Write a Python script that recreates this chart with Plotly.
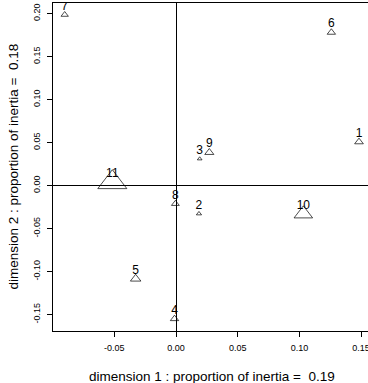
import plotly.graph_objects as go

# ---- data ----
labels = ["1", "2", "3", "4", "5", "6", "7", "8", "9", "10", "11"]
dim1 = [0.1483, 0.0186, 0.0192, -0.0012, -0.0327, 0.1259, -0.0902, -0.0005, 0.0270, 0.1032, -0.0516]
dim2 = [0.0507, -0.0328, 0.0310, -0.1550, -0.1085, 0.1780, 0.1986, -0.0212, 0.0384, -0.0330, 0.0037]
mass = [0.083, 0.050, 0.045, 0.080, 0.100, 0.080, 0.070, 0.075, 0.087, 0.177, 0.277]
x_ticks = [-0.05, 0.00, 0.05, 0.10, 0.15]
y_ticks = [-0.15, -0.10, -0.05, 0.00, 0.05, 0.10, 0.15, 0.20]
inertia1 = 0.19
inertia2 = 0.18

# ---- layout geometry ----
W, H = 368, 383
ML, MR, MT, MB = 53, 0, 3, 52
plot_h = H - MT - MB
x_range = [-0.09968, 0.15559]
y_range = [-0.16919, 0.21221]
label_shift = 8 * (y_range[1] - y_range[0]) / plot_h
FONT = "Liberation Sans, Arial, sans-serif"

sizes = [m * 100 / 1.1 for m in mass]

fig = go.Figure()
fig.add_trace(go.Scatter(
    x=dim1, y=dim2, mode="markers",
    marker=dict(symbol="triangle-up-open", size=sizes, color="black",
                line=dict(color="black", width=1)),
    cliponaxis=True, hoverinfo="skip", showlegend=False))
fig.add_trace(go.Scatter(
    x=dim1, y=[v + label_shift for v in dim2], mode="text", text=labels,
    textposition="middle center",
    textfont=dict(family=FONT, size=12, color="black"),
    cliponaxis=True, hoverinfo="skip", showlegend=False))

axis_common = dict(showgrid=False, ticks="outside", ticklen=5, tickwidth=1,
                   tickcolor="black", showline=True, linecolor="black", linewidth=1,
                   zeroline=True, zerolinecolor="black", zerolinewidth=1,
                   automargin=False, ticklabeloverflow="allow",
                   tickfont=dict(family=FONT, size=9, color="black"))

fig.update_layout(
    template="none",
    width=W, height=H,
    margin=dict(l=ML, r=MR, t=MT, b=MB, pad=0, autoexpand=False),
    paper_bgcolor="white", plot_bgcolor="white",
    xaxis=dict(range=x_range, tickvals=x_ticks,
               ticktext=[f"{v:.2f}" for v in x_ticks], mirror=True,
               ticklabelstandoff=3, **axis_common),
    yaxis=dict(range=y_range, tickvals=y_ticks,
               ticktext=[f"{v:.2f}" for v in y_ticks], mirror=False,
               tickangle=-90, ticklabelstandoff=3, **axis_common),
    annotations=[
        dict(text=f"dimension 1 : proportion of inertia =  {inertia1:.2f}",
             xref="paper", yref="paper", x=0.504, y=-0.1387,
             xanchor="center", yanchor="middle", showarrow=False,
             font=dict(family=FONT, size=13.5, color="black")),
        dict(text=f"dimension 2 : proportion of inertia =  {inertia2:.2f}",
             xref="paper", yref="paper", x=-0.1254, y=0.503,
             xanchor="center", yanchor="middle", showarrow=False, textangle=-90,
             font=dict(family=FONT, size=13.5, color="black")),
    ],
)

fig.write_html("out.html", config={"displayModeBar": False},
               post_script="document.body.style.margin='0';document.body.style.overflow='hidden';")
